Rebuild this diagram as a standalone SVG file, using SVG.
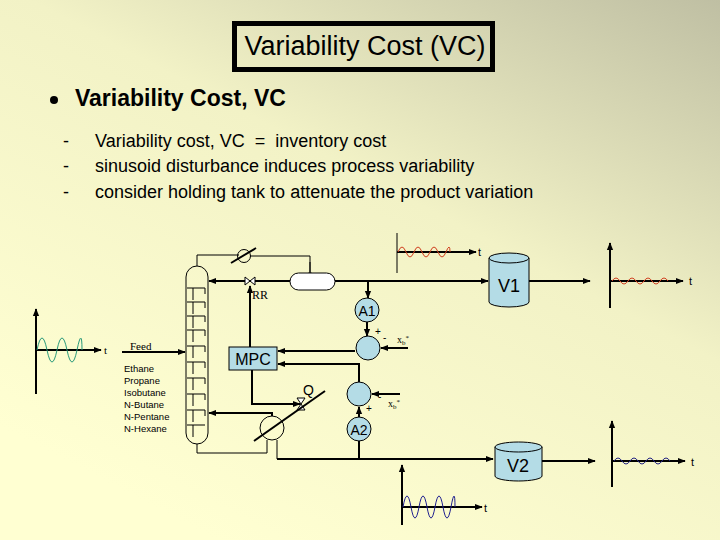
<svg xmlns="http://www.w3.org/2000/svg" width="720" height="540" viewBox="0 0 720 540">
<defs>
<linearGradient id="bg" x1="1" y1="0" x2="0.3" y2="1">
<stop offset="0" stop-color="#bfbfa3"/><stop offset="0.45" stop-color="#f2f2c6"/><stop offset="1" stop-color="#ffffd2"/>
</linearGradient>
<marker id="ar" viewBox="0 0 10 10" refX="9" refY="5" markerWidth="4" markerHeight="4" orient="auto"><path d="M0,1 L10,5 L0,9 z" fill="#000"/></marker>
<style>
.l{stroke:#000;stroke-width:2;fill:none}
.t{stroke:#000;stroke-width:1;fill:none}
.a{marker-end:url(#ar)}
.n{fill:#b4dce6;stroke:#000;stroke-width:1}
.s{font-family:"Liberation Sans",Arial,sans-serif}
.r{font-family:"Liberation Serif","Times New Roman",serif}
</style>
</defs>
<rect width="720" height="540" fill="url(#bg)"/>
<g id="title">
<rect x="234.5" y="23.5" width="258" height="46" fill="none" stroke="#000" stroke-width="5"/>
<text x="365" y="55" text-anchor="middle" font-size="27" class="s">Variability Cost (VC)</text>
</g>
<g id="text">
<circle cx="54" cy="100" r="4" fill="#000"/>
<text x="75" y="106" font-size="23" font-weight="bold" class="s">Variability Cost, VC</text>
<g font-size="18" class="s">
<text x="63" y="147">-</text><text x="95" y="147" xml:space="preserve">Variability cost, VC  =  inventory cost</text>
<text x="63" y="172">-</text><text x="95" y="172">sinusoid disturbance induces process variability</text>
<text x="63" y="198">-</text><text x="95" y="198">consider holding tank to attenuate the product variation</text>
</g>
</g>
<g id="column">
<rect x="186" y="266" width="22" height="178" rx="11" fill="none" stroke="#000" stroke-width="1"/>
<path class="t" d="M187,288H205M193,288V300M205,288V294 M187,302H205M193,302V314M205,302V308 M187,316H205M193,316V328M205,316V322 M187,330H205M193,330V342M205,330V336 M187,346H205M193,346V358M205,346V352 M187,362H205M193,362V374M205,362V368 M187,378H205M193,378V390M205,378V384 M187,394H205M193,394V406M205,394V400 M187,410H205M193,410V422M205,410V416 M187,425H205M193,425V437"/>
</g>
<g id="connectors">
<path class="t" d="M197,266V255H239 M250,256H310V272"/>
<path class="t a" d="M310,262V276"/>
<circle cx="244" cy="256" r="6.5" fill="none" stroke="#000"/>
<path class="l" d="M231,263L256,248"/>
<path class="l a" d="M290,281H209"/>
<path class="l a" d="M335,281H488"/>
<path class="l a" d="M529,281H590"/>
<path class="l a" d="M368,281V298"/>
<path class="l a" d="M367,322V336"/>
<path class="l a" d="M408,348H381"/>
<path class="l a" d="M355,351H278"/>
<path class="l a" d="M359,382V364H278"/>
<path class="l a" d="M400,394H372"/>
<path class="l" d="M359,459V441"/>
<path class="l a" d="M359,443V407"/>
<path class="l a" d="M250,347V286"/>
<path class="l a" d="M252,370V404H300"/>
<path class="l a" d="M272,416V413H209"/>
<path class="t" d="M197,444V453H267V440 M277,440V459"/>
<path class="l a" d="M277,459H493"/>
<path class="l a" d="M542,461H595"/>
<path class="l a" d="M122,352H185"/>
<path d="M245,277L255,285L255,277L245,285Z" fill="#fff" stroke="#000"/>
<path d="M297,398L305,410L297,410L305,398Z" fill="#fff" stroke="#000"/>
<circle cx="272" cy="428" r="12" fill="none" stroke="#000"/>
<path class="l" d="M254,441L325,391"/>
</g>
<g id="drum"><rect x="290" y="273" width="45" height="17" rx="8.5" fill="#fff" stroke="#000"/></g>
<g id="V1">
<path class="n" d="M489,258V302A20,5 0 0 0 529,302V258"/>
<ellipse class="n" cx="509" cy="258" rx="20" ry="5"/>
<text x="509" y="292" text-anchor="middle" font-size="18" class="s">V1</text>
</g>
<g id="V2">
<path class="n" d="M495,447V476A23.5,5 0 0 0 542,476V447"/>
<ellipse class="n" cx="518.5" cy="447" rx="23.5" ry="5"/>
<text x="518" y="472" text-anchor="middle" font-size="18" class="s">V2</text>
</g>
<g id="A1"><circle class="n" cx="367" cy="310" r="12"/><text x="367" y="316" text-anchor="middle" font-size="14" class="s">A1</text></g>
<g id="S1"><circle class="n" cx="368" cy="348" r="12"/></g>
<g id="S2"><circle class="n" cx="359" cy="394" r="12"/></g>
<g id="A2"><circle class="n" cx="359" cy="429" r="12"/><text x="359" y="435" text-anchor="middle" font-size="14" class="s">A2</text></g>
<g id="MPC"><rect class="n" x="229" y="347" width="48" height="23"/><text x="253" y="365" text-anchor="middle" font-size="16" class="s">MPC</text></g>
<g id="labels" font-size="10">
<text x="252" y="299" font-size="12" class="r">RR</text>
<text x="303" y="395" font-size="14" class="s">Q</text>
<text x="375" y="335" class="s">+</text><text x="383" y="341" class="s">-</text><text x="397" y="343" class="r">x<tspan font-size="7" dy="2">b</tspan><tspan font-size="7" dy="-5">*</tspan></text>
<text x="378" y="400" class="s">-</text><text x="366" y="412" class="s">+</text><text x="388" y="407" class="r">x<tspan font-size="7" dy="2">b</tspan><tspan font-size="7" dy="-5">*</tspan></text>
<text x="130" y="350" font-size="11" class="r">Feed</text>
<g class="s" font-size="9.5"><text x="124" y="372">Ethane</text><text x="124" y="384">Propane</text><text x="124" y="396">Isobutane</text><text x="124" y="408">N-Butane</text><text x="124" y="420">N-Pentane</text><text x="124" y="432">N-Hexane</text></g>
</g>
<g id="plots">
<path class="l a" d="M36,394V309"/><path class="l a" d="M36,350H101"/><text x="104" y="354" font-size="11" class="r">t</text>
<path d="M37,350q5,-24 10,0t10,0t10,0t10,0t5,0" fill="none" stroke="#2a9a7a" stroke-width="1"/>
<path class="t" d="M397,233V273"/><path class="l a" d="M397,252H476"/><text x="478" y="256" font-size="11" class="s">t</text>
<path d="M398,252q4,-10 8,0t8,0t8,0t8,0t8,0t8,0t4,0" fill="none" stroke="#d04020" stroke-width="1"/>
<path class="l a" d="M610,308V243"/><path class="l a" d="M610,281H683"/><text x="689" y="285" font-size="11" class="s">t</text>
<path d="M612,281q4,-6 8,0t8,0t8,0t8,0t8,0t8,0t8,0" fill="none" stroke="#d04020" stroke-width="1"/>
<path class="l a" d="M612,487V421"/><path class="l a" d="M612,461H685"/><text x="691" y="466" font-size="11" class="s">t</text>
<path d="M614,461q4,-6 8,0t8,0t8,0t8,0t8,0t8,0t8,0" fill="none" stroke="#202080" stroke-width="1"/>
<path class="l a" d="M402,525V465"/><path class="l a" d="M402,507H482"/><text x="484" y="512" font-size="11" class="s">t</text>
<path d="M403,507q4,-22 8,0t8,0t8,0t8,0t8,0t8,0t4,0" fill="none" stroke="#202090" stroke-width="1"/>
</g>
</svg>
